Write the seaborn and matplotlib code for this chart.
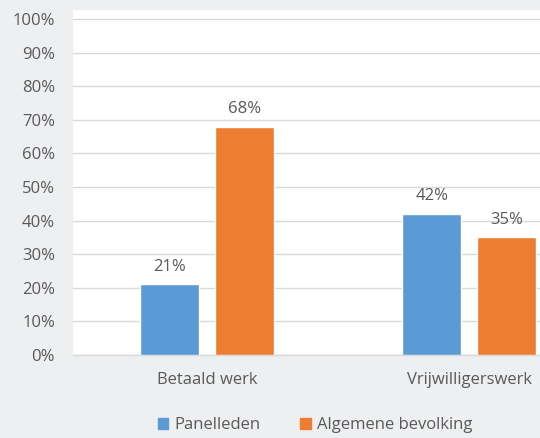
import pandas as pd
import matplotlib.pyplot as plt
import seaborn as sns
from matplotlib.ticker import FuncFormatter
from matplotlib.patches import Patch

categories = ['Betaald werk', 'Vrijwilligerswerk']
groups = ['Panelleden', 'Algemene bevolking']
panelleden = [21, 42]
algemene_bevolking = [68, 35]

df = pd.DataFrame({
    'categorie': categories * 2,
    'groep': [groups[0]] * 2 + [groups[1]] * 2,
    'waarde': panelleden + algemene_bevolking,
})

bg = '#EEEFF1'
text_col = '#595959'
colors = {'Panelleden': '#5B9BD5', 'Algemene bevolking': '#ED7D31'}

sns.set_style('white')
plt.rcParams['font.family'] = ['Open Sans', 'DejaVu Sans']

fig = plt.figure(figsize=(5.4, 4.38), dpi=100, facecolor=bg)
ax = fig.add_axes([73 / 540, 1 - 355 / 438, 467 / 540, 345 / 438])
ax.set_facecolor('white')

sns.barplot(data=df, x='categorie', y='waarde', hue='groep', palette=colors,
            width=0.571, gap=0.21, ax=ax, saturation=1, legend=False, zorder=3)

for container in ax.containers:
    ax.bar_label(container, labels=[f'{v:.0f}%' for v in container.datavalues],
                 padding=7, fontsize=12, color=text_col)

ax.set_xlim(-0.51, 1.27)
ax.set_ylim(0, 102.7)
ax.set_yticks(range(0, 101, 10))
ax.yaxis.set_major_formatter(FuncFormatter(lambda v, p: f'{v:.0f}%'))
ax.grid(axis='y', color='#D9D9D9', linewidth=1, zorder=0)
ax.set_axisbelow(True)
for s in ['top', 'right', 'left']:
    ax.spines[s].set_visible(False)
ax.spines['bottom'].set_color('#D9D9D9')
ax.spines['bottom'].set_linewidth(1)
ax.tick_params(axis='both', length=0, labelsize=12, colors=text_col)
ax.tick_params(axis='x', pad=12)
ax.tick_params(axis='y', pad=13)
ax.set_xlabel('')
ax.set_ylabel('')

handles = [Patch(facecolor=colors[g], edgecolor=colors[g], label=g) for g in groups]
leg = fig.legend(handles=handles, loc='center', bbox_to_anchor=(315 / 540, 1 - 425 / 438),
                 ncol=2, frameon=False, fontsize=12, handlelength=0.65, handleheight=0.65,
                 handletextpad=0.35, columnspacing=2.4)
for t in leg.get_texts():
    t.set_color(text_col)

fig.savefig('out.png', dpi=100, facecolor=bg)
